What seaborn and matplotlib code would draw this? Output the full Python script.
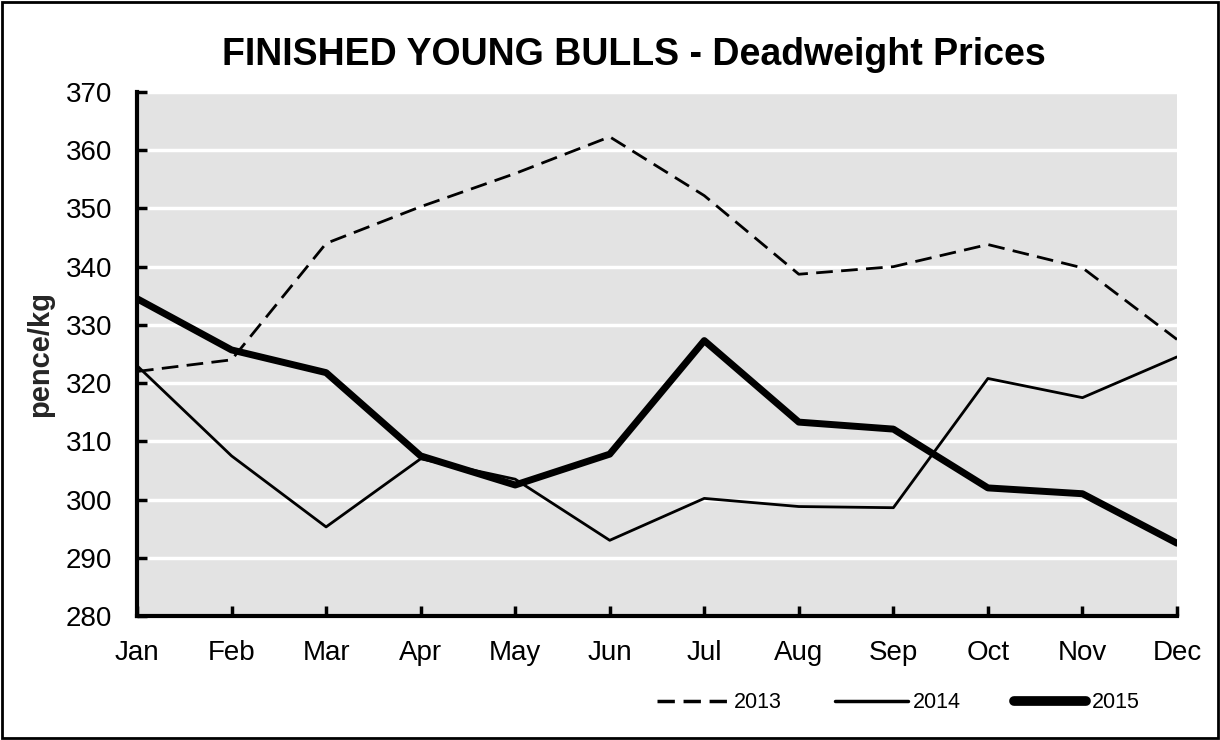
import matplotlib
matplotlib.use("Agg")
import matplotlib.pyplot as plt
import seaborn as sns
import pandas as pd
from matplotlib.patches import Rectangle

months = ["Jan", "Feb", "Mar", "Apr", "May", "Jun", "Jul", "Aug", "Sep", "Oct", "Nov", "Dec"]
y2013 = [322.0, 324.0, 344.0, 350.3, 356.0, 362.3, 352.2, 338.7, 340.0, 343.8, 339.8, 327.5]
y2014 = [323.0, 307.5, 295.3, 307.0, 303.5, 293.0, 300.2, 298.8, 298.6, 320.8, 317.5, 324.5]
y2015 = [334.5, 325.7, 321.8, 307.5, 302.5, 307.8, 327.3, 313.3, 312.1, 302.0, 301.0, 292.5]
yticks = [280, 290, 300, 310, 320, 330, 340, 350, 360, 370]

sns.set_theme(style="white")
plt.rcParams['font.family'] = ['Liberation Sans', 'DejaVu Sans']
plt.rcParams['text.color'] = 'black'

fig = plt.figure(figsize=(12.2, 7.4), dpi=100)
ax = fig.add_axes([137/1220, 1 - 616/740, (1177-137)/1220, (616-92)/740])
ax.set_facecolor("#E3E3E3")

x = list(range(12))
df13 = pd.DataFrame({"x": x, "y": y2013})
df14 = pd.DataFrame({"x": x, "y": y2014})
df15 = pd.DataFrame({"x": x, "y": y2015})

sns.lineplot(data=df13, x="x", y="y", ax=ax, color="black", lw=2.0, label="2013")
ax.lines[-1].set_dashes([6, 3])
sns.lineplot(data=df14, x="x", y="y", ax=ax, color="black", lw=2.0, label="2014")
sns.lineplot(data=df15, x="x", y="y", ax=ax, color="black", lw=5.0, label="2015")

ax.set_xlim(0, 11)
ax.set_ylim(280, 370)
ax.set_yticks(yticks)
ax.set_xticks(x)
ax.set_xticklabels(months)
ax.yaxis.grid(True, color="white", lw=2.5)
ax.xaxis.grid(False)
ax.set_axisbelow(True)
for s in ["top", "right"]:
    ax.spines[s].set_visible(False)
for s in ["left", "bottom"]:
    ax.spines[s].set_color("black")
    ax.spines[s].set_linewidth(3)
ax.tick_params(axis="both", direction="in", length=7, width=2.5, color="black",
               labelsize=20, labelcolor="black", left=True, bottom=True)
ax.tick_params(axis="x", pad=17)
ax.tick_params(axis="y", pad=18)
ax.set_xlabel("")
ax.set_ylabel("pence/kg", fontsize=21, fontweight="bold", labelpad=8)

fig.text(634/1220, 1 - 55/740, "FINISHED YOUNG BULLS - Deadweight Prices",
         ha="center", va="center", fontsize=27, fontweight="bold")

leg = ax.legend(loc="center", bbox_to_anchor=(898/1220, 1 - 703/740),
                bbox_transform=fig.transFigure, ncol=3, frameon=False,
                fontsize=15.5, handlelength=3.35, columnspacing=2.5, handletextpad=0.23)
for t in leg.get_texts():
    t.set_color("black")
leg.get_lines()[0].set_linewidth(2.5)
leg.get_lines()[0].set_dashes([5, 2.5])
leg.get_lines()[1].set_linewidth(2.5)
leg.get_lines()[2].set_linewidth(7)
leg.get_lines()[2].set_solid_capstyle("round")

fig.patches.append(Rectangle((2/1220, 2/740), 1 - 4/1220, 1 - 4/740,
                             transform=fig.transFigure, fill=False,
                             edgecolor="black", lw=2, zorder=10))

fig.savefig("out.png", dpi=100)
